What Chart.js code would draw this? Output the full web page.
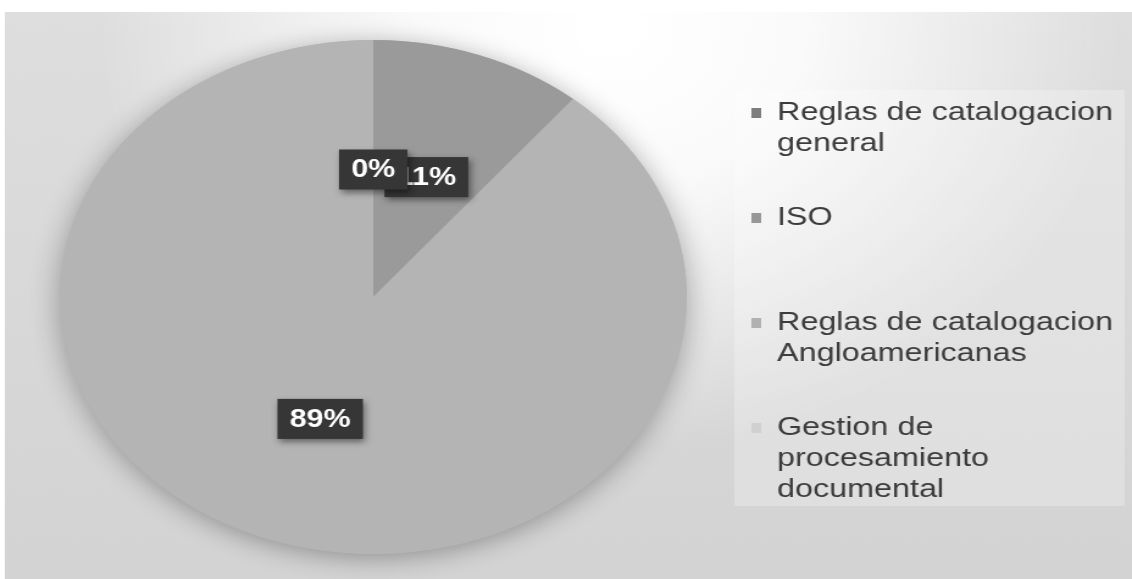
<!DOCTYPE html>
<html>
<head>
<meta charset="utf-8">
<script src="https://cdn.jsdelivr.net/npm/chart.js@4.4.0/dist/chart.umd.min.js"></script>
<style>
  html, body { margin: 0; padding: 0; background: #fff; overflow: hidden; }
  /* the source picture is stretched sideways, so the whole chart is too */
  #wrap { width: 928px; height: 579px; transform: scaleX(1.2198); transform-origin: 0 0; }
</style>
</head>
<body>
<div id="wrap"><canvas id="pie" width="928" height="579"></canvas></div>
<script>
// Data
const categories = [
  ['Reglas de catalogacion', 'general'],
  ['ISO'],
  ['Reglas de catalogacion', 'Angloamericanas'],
  ['Gestion de', 'procesamiento', 'documental']
];
const shares = [11, 0, 89, 0];
const labelShown = [true, false, true, true];

const sliceColors = ['#9a9a9a', '#a8a8a8', '#b4b4b4', '#cdcdcd'];
const markerColors = ['#7e7e7e', '#979797', '#b1b1b1', '#d0d0d0'];
const FONT = '"Liberation Sans", Arial, sans-serif';

const background = {
  id: 'background',
  beforeDraw(chart) {
    const { ctx, width, height } = chart;
    ctx.save();
    ctx.fillStyle = '#fff';
    ctx.fillRect(0, 0, width, height);

    const lin = ctx.createLinearGradient(0, 12, 0, height);
    lin.addColorStop(0, '#dedede');
    lin.addColorStop(1, '#d3d3d3');
    ctx.fillStyle = lin;
    ctx.fillRect(4, 12, width - 4, height - 12);

    const glow = ctx.createRadialGradient(500, 30, 20, 500, 30, 420);
    glow.addColorStop(0, 'rgba(255,255,255,1)');
    glow.addColorStop(0.35, 'rgba(255,255,255,0.85)');
    glow.addColorStop(1, 'rgba(255,255,255,0)');
    ctx.fillStyle = glow;
    ctx.fillRect(4, 12, width - 4, height - 12);

    // legend panel
    ctx.fillStyle = 'rgba(255,255,255,0.25)';
    ctx.fillRect(602, 90, 320, 416);
    ctx.restore();
  }
};

const pieShadow = {
  id: 'pieShadow',
  beforeDatasetsDraw(chart) {
    const arc = chart.getDatasetMeta(0).data[0];
    if (!arc) return;
    const { ctx } = chart;
    ctx.save();
    ctx.shadowColor = 'rgba(0,0,0,0.32)';
    ctx.shadowBlur = 24;
    ctx.shadowOffsetY = 4;
    ctx.fillStyle = '#b4b4b4';
    ctx.beginPath();
    ctx.arc(arc.x, arc.y, arc.outerRadius, 0, Math.PI * 2);
    ctx.fill();
    ctx.restore();
  }
};

const sliceLabels = {
  id: 'sliceLabels',
  afterDatasetsDraw(chart) {
    const { ctx } = chart;
    const meta = chart.getDatasetMeta(0);
    ctx.save();
    ctx.font = 'bold 25px ' + FONT;
    ctx.textAlign = 'center';
    ctx.textBaseline = 'middle';
    meta.data.forEach((arc, i) => {
      if (!labelShown[i]) return;
      const p = arc.getCenterPoint();
      const text = shares[i] + '%';
      const w = ctx.measureText(text).width + 20;
      const h = 40;
      ctx.shadowColor = 'rgba(0,0,0,0.45)';
      ctx.shadowBlur = 6;
      ctx.shadowOffsetX = 2;
      ctx.shadowOffsetY = 3;
      ctx.fillStyle = '#363636';
      ctx.fillRect(p.x - w / 2, p.y - h / 2 + 1, w, h);
      ctx.shadowColor = 'transparent';
      ctx.fillStyle = '#fff';
      ctx.fillText(text, p.x, p.y + 2);
    });
    ctx.restore();
  }
};

const sideLegend = {
  id: 'sideLegend',
  afterDraw(chart) {
    const { ctx } = chart;
    ctx.save();
    ctx.font = '26.5px ' + FONT;
    ctx.textBaseline = 'middle';
    ctx.textAlign = 'left';
    chart.data.labels.forEach((lines, i) => {
      const y0 = 113 + i * 105;
      ctx.fillStyle = markerColors[i];
      ctx.fillRect(616, y0 - 5, 8, 10);
      ctx.fillStyle = '#3c3c3c';
      lines.forEach((line, j) => ctx.fillText(line, 637, y0 + j * 31));
    });
    ctx.restore();
  }
};

new Chart(document.getElementById('pie'), {
  type: 'pie',
  data: {
    labels: categories,
    datasets: [{
      data: shares,
      backgroundColor: sliceColors,
      borderWidth: 0,
      hoverOffset: 0
    }]
  },
  options: {
    responsive: false,
    animation: false,
    devicePixelRatio: 1,
    layout: { padding: { left: 49, top: 40, right: 365, bottom: 25 } },
    plugins: {
      legend: { display: false },
      tooltip: { enabled: false }
    }
  },
  plugins: [background, pieShadow, sliceLabels, sideLegend]
});
</script>
</body>
</html>
